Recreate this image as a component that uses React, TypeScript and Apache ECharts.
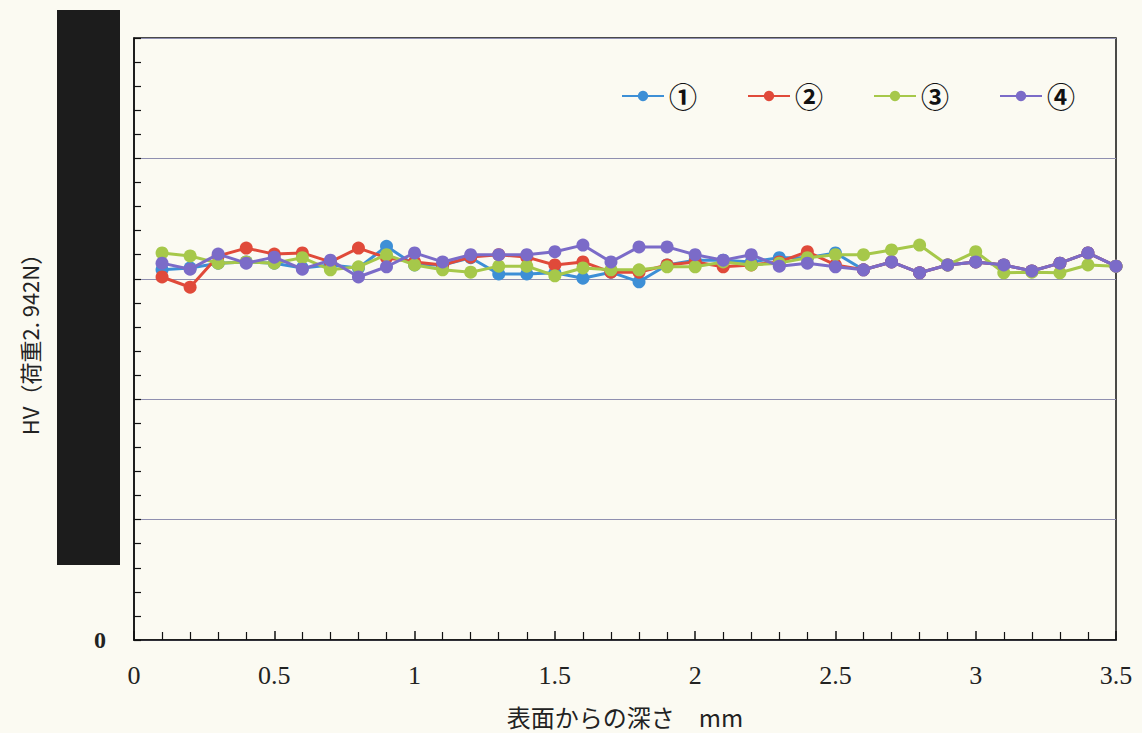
import React, { useEffect, useRef } from "react";
import * as echarts from "echarts";

const depths = [
  0.1, 0.2, 0.3, 0.4, 0.5, 0.6, 0.7, 0.8, 0.9, 1.0,
  1.1, 1.2, 1.3, 1.4, 1.5, 1.6, 1.7, 1.8, 1.9, 2.0,
  2.1, 2.2, 2.3, 2.4, 2.5, 2.6, 2.7, 2.8, 2.9, 3.0,
  3.1, 3.2, 3.3, 3.4, 3.5,
];
const seriesNames = ["①", "②", "③", "④"];
const s1 = [615, 618, 626, 628, 626, 618, 623, 618, 654, 623, 623, 635, 608, 608, 610, 601, 611, 595, 623, 631, 631, 628, 635, 635, 643, 615, 628, 610, 623, 628, 623, 613, 626, 643, 621];
const s2 = [603, 586, 638, 651, 641, 643, 628, 651, 635, 628, 623, 636, 640, 636, 623, 628, 611, 611, 623, 628, 620, 623, 628, 645, 623, 615, 628, 610, 623, 628, 623, 613, 626, 643, 621];
const s3 = [643, 638, 626, 628, 626, 635, 615, 620, 640, 623, 615, 611, 621, 621, 605, 618, 615, 615, 620, 620, 628, 623, 626, 635, 640, 640, 648, 656, 623, 645, 610, 611, 610, 623, 621];
const s4 = [626, 616, 641, 626, 636, 616, 631, 603, 620, 643, 628, 640, 640, 640, 645, 656, 628, 653, 653, 640, 631, 640, 621, 626, 620, 615, 628, 610, 623, 628, 623, 613, 626, 643, 621];
const colors = ["#3d8fd6", "#e04a3a", "#a6c84a", "#7b6bc8"];
const xTicks = ["0", "0.5", "1", "1.5", "2", "2.5", "3", "3.5"];

export default function App() {
  const ref = useRef<HTMLDivElement>(null);
  useEffect(() => {
    if (!ref.current) return;
    const chart = echarts.init(ref.current, null, { renderer: "svg" });
    const all = [s1, s2, s3, s4];
    chart.setOption({
      animation: false,
      backgroundColor: "#fbfaf2",
      legend: {
        left: 616,
        top: 77,
        itemWidth: 42,
        itemHeight: 13,
        itemGap: 50,
        textStyle: { fontSize: 28, fontWeight: "bold", color: "#111", fontFamily: "Noto Sans CJK JP" },
        data: seriesNames,
      },
      grid: {
        left: 134,
        top: 38,
        right: 26,
        bottom: 93,
        show: true,
        borderColor: "#111",
        borderWidth: 1.5,
        backgroundColor: "transparent",
      },
      xAxis: {
        type: "value",
        min: 0,
        max: 3.5,
        interval: 0.5,
        name: "表面からの深さ　mm",
        nameLocation: "middle",
        nameGap: 64,
        nameTextStyle: { fontSize: 24, color: "#222", fontFamily: "Noto Sans CJK JP" },
        axisLine: { show: true, lineStyle: { color: "#111", width: 1.5 } },
        axisTick: { show: true, inside: true, length: 9, lineStyle: { color: "#111", width: 1.5 } },
        minorTick: { show: true, splitNumber: 5, length: 8, lineStyle: { color: "#111", width: 1.2 } },
        splitLine: { show: false },
        axisLabel: {
          margin: 22,
          fontSize: 26,
          color: "#222",
          fontFamily: "Liberation Serif",
          formatter: (v: number) => {
            const i = Math.round(v / 0.5);
            return xTicks[i] ?? "";
          },
        },
      },
      yAxis: {
        type: "value",
        min: 0,
        max: 1000,
        interval: 200,
        name: "HV（荷重2. 942N）",
        nameLocation: "middle",
        nameGap: 94,
        nameTextStyle: { fontSize: 22, color: "#222", fontFamily: "Noto Sans CJK JP" },
        axisLine: { show: true, lineStyle: { color: "#111", width: 1.5 } },
        axisTick: { show: true, inside: true, length: 7, lineStyle: { color: "#111", width: 1.2 } },
        minorTick: { show: true, splitNumber: 5, length: 7, lineStyle: { color: "#111", width: 1.2 } },
        splitLine: { show: true, lineStyle: { color: "#8f8fb0", width: 1.2 } },
        axisLabel: {
          margin: 28,
          fontSize: 24,
          fontWeight: "bold",
          color: "#222",
          fontFamily: "Liberation Serif",
          formatter: (v: number) => (v === 0 ? "0" : ""),
        },
      },
      graphic: [
        {
          type: "rect",
          z: 100,
          shape: { x: 57, y: 10, width: 63, height: 555 },
          style: { fill: "#1c1c1c" },
        },
      ],
      series: all.map((arr, k) => ({
        name: seriesNames[k],
        type: "line",
        data: depths.map((d, i) => [d, arr[i]]),
        symbol: "circle",
        symbolSize: 13,
        itemStyle: { color: colors[k] },
        lineStyle: { color: colors[k], width: 3 },
        z: 2 + k,
      })),
    });
    return () => chart.dispose();
  }, []);
  return (
    <div
      ref={ref}
      style={{ position: "absolute", left: 0, top: 0, width: 1142, height: 733 }}
    />
  );
}
